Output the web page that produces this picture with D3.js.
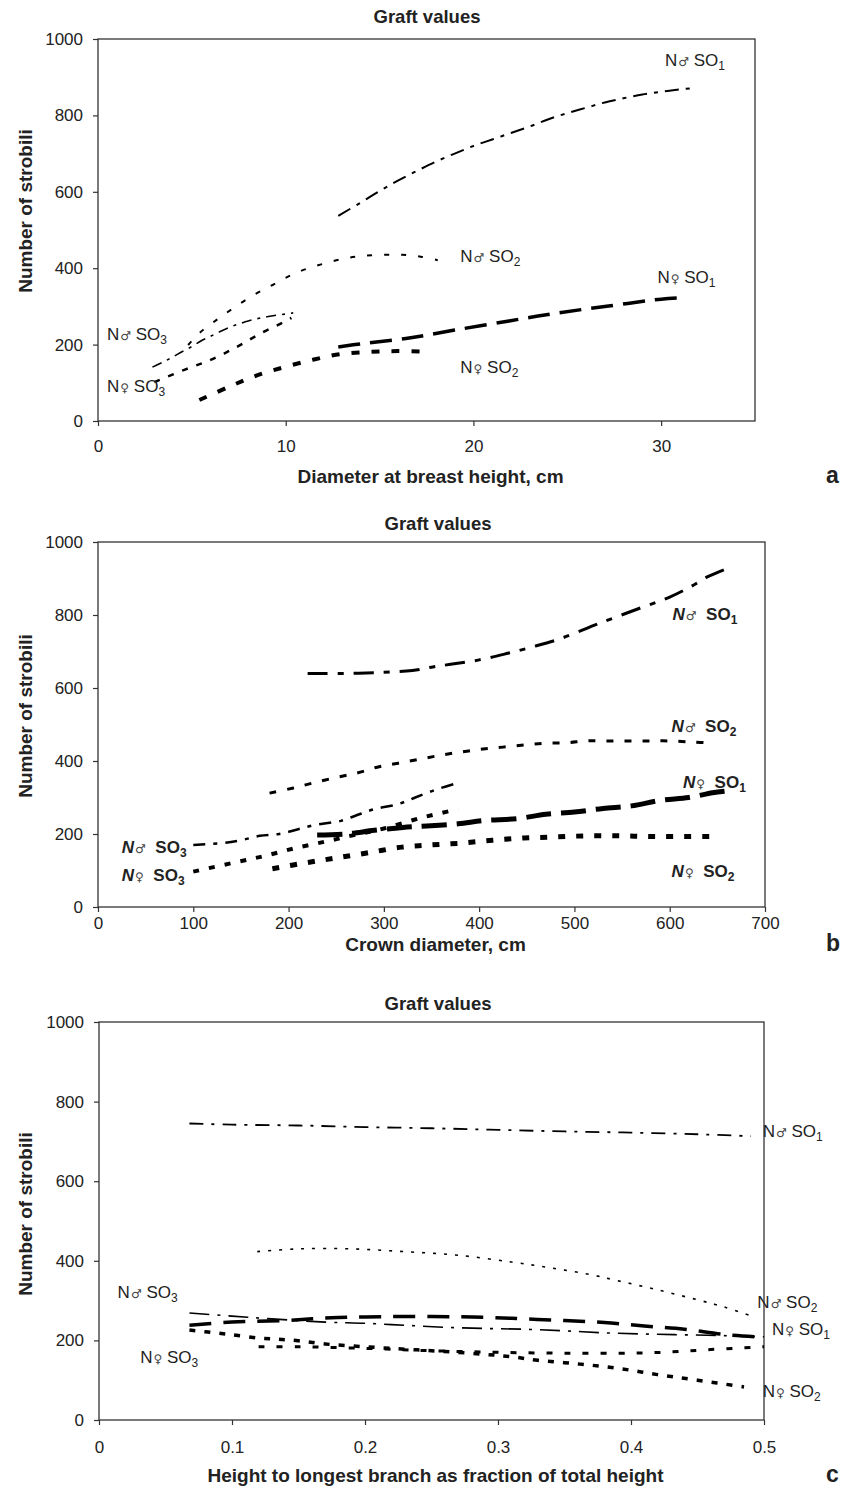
<!DOCTYPE html>
<html><head><meta charset="utf-8">
<script src="https://cdn.jsdelivr.net/npm/d3@7/dist/d3.min.js"></script>
<style>
body{margin:0;background:#fff;}
svg text{font-family:"Liberation Sans",Arial,Helvetica,sans-serif;fill:#222;}
</style></head>
<body><svg id="c" width="850" height="1491"></svg>
<script>
// ---------- DATA ----------
const yTicks = [0,200,400,600,800,1000];
const xTicksA = [0,10,20,30];
const xTicksB = [0,100,200,300,400,500,600,700];
const xTicksC = [0,0.1,0.2,0.3,0.4,0.5];
const xTickLabelsC = ["0","0.1","0.2","0.3","0.4","0.5"];

// Panel a: diameter at breast height (cm) vs number of strobili
const aMaleSO1 = [[12.8,537],[14,572],[15,602],[16,630],[17,655],[18,679],[19,700],[20,720],[21,737],[22,754],[23,771],[24,790],[25,806],[26,820],[27,834],[28,845],[29,855],[30,862],[31,868],[31.8,872]];
const aMaleSO2 = [[4.8,199],[5.4,230],[6.3,264],[7.2,295],[8.3,330],[9.3,356],[10.2,380],[11.2,400],[12.2,414],[13.2,426],[14.1,432],[15.2,435],[16.2,435],[17.2,430],[18.1,421]];
const aMaleSO3 = [[2.9,141],[3.5,155],[4,168],[4.5,182],[5,195],[5.5,210],[6,222],[6.5,234],[7,245],[7.5,254],[8,262],[8.5,268],[9,273],[9.5,277],[10,280],[10.4,283]];
const aFemSO1 = [[12.8,194],[14,202],[16.4,216],[19,238],[21.9,262],[24.5,283],[27.2,301],[30,319],[30.9,322]];
const aFemSO2 = [[5.4,55],[7,90],[8.5,120],[10,142],[11.5,161],[12.9,175],[14.5,181],[16,183],[17.6,181]];
const aFemSO3 = [[3,102],[4.6,134],[6,160],[7.4,194],[8.7,230],[10.1,264],[10.3,270]];

// Panel b: crown diameter (cm) vs number of strobili
const bMaleSO1 = [[220,640],[260,640],[300,643],[330,648],[350,657],[370,665],[400,677],[430,695],[455,712],[485,735],[525,776],[570,820],[600,849],[623,879],[640,905],[658,925]];
const bMaleSO2 = [[180,312],[205,326],[226,340],[250,355],[272,367],[293,383],[315,394],[338,405],[360,416],[382,425],[404,433],[425,438],[448,444],[470,449],[492,450],[513,455],[535,455],[558,455],[580,455],[600,455],[624,452],[645,449]];
const bMaleSO3 = [[100,170],[130,175],[150,183],[170,195],[190,200],[210,213],[230,226],[255,236],[272,252],[290,268],[315,282],[333,300],[355,322],[378,340]];
const bFemSO1 = [[230,197],[260,200],[290,210],[320,218],[345,222],[378,228],[405,237],[440,242],[470,254],[500,260],[530,270],[560,277],[590,292],[620,300],[645,313],[660,318]];
const bFemSO2 = [[183,105],[218,121],[249,134],[282,148],[319,164],[349,170],[381,175],[414,183],[447,189],[480,192],[514,195],[548,195],[580,193],[615,193],[650,193]];
const bFemSO3 = [[100,97],[140,120],[175,140],[208,162],[240,180],[270,198],[300,215],[340,245],[378,268]];

// Panel c: height to longest branch (fraction) vs number of strobili
const cMaleSO1 = [[0.068,745],[0.1,742],[0.15,740],[0.2,736],[0.25,733],[0.3,729],[0.35,725],[0.4,722],[0.45,718],[0.49,713]];
const cMaleSO2 = [[0.119,423],[0.15,430],[0.19,430],[0.23,423],[0.27,414],[0.31,397],[0.34,382],[0.37,365],[0.39,350],[0.42,327],[0.45,302],[0.47,284],[0.49,262]];
const cMaleSO3 = [[0.068,269],[0.1,261],[0.13,254],[0.17,246],[0.2,243],[0.23,238],[0.26,233],[0.29,230],[0.32,228],[0.35,224],[0.38,219],[0.41,216],[0.44,214],[0.47,212],[0.5,209]];
const cFemSO1 = [[0.068,238],[0.1,246],[0.14,250],[0.17,256],[0.2,259],[0.25,260],[0.29,258],[0.32,254],[0.35,250],[0.38,245],[0.41,236],[0.44,228],[0.47,215],[0.5,208]];
const cFemSO2 = [[0.068,226],[0.09,218],[0.1,214],[0.12,206],[0.135,203],[0.15,199],[0.17,191],[0.2,184],[0.23,178],[0.26,172],[0.29,165],[0.31,159],[0.33,150],[0.36,141],[0.39,130],[0.42,114],[0.45,100],[0.485,83]];
const cFemSO3 = [[0.12,184],[0.15,184],[0.2,180],[0.25,174],[0.3,170],[0.35,168],[0.4,168],[0.43,171],[0.46,177],[0.5,184]];

// ---------- DRAW ----------
const svg = d3.select("#c");
const MALE = "\u2642", FEM = "\u2640";

const panels = [
  { id:"a", xDom:[0,35], xR:[98,755], yR:[421,39], xTicks:xTicksA, xFmt:d=>String(d), tickPad:14,
    xTitle:"Diameter at breast height, cm", xTitleY:483, titleX:427, titleY:23, letterY:483, yTitleY:211, bold:false,
    series:[
      {d:aMaleSO1, w:2, dash:"14,7,4,7"},
      {d:aMaleSO2, w:2, dash:"5,12"},
      {d:aMaleSO3, w:1.6, dash:"10,6,3,6"},
      {d:aFemSO1, w:3.5, dash:"22,10"},
      {d:aFemSO2, w:4, dash:"8,12"},
      {d:aFemSO3, w:2.5, dash:"6,9"}],
    labels:[
      {sex:MALE, n:"1", at:[30.2,929]},
      {sex:MALE, n:"2", at:[19.3,416]},
      {sex:FEM, n:"1", at:[29.8,361]},
      {sex:FEM, n:"2", at:[19.3,126]},
      {sex:MALE, n:"3", at:[0.48,212]},
      {sex:FEM, n:"3", at:[0.48,76]}]},
  { id:"b", xDom:[0,700], xR:[98,765], yR:[907,542], xTicks:xTicksB, xFmt:d=>String(d), tickPad:5,
    xTitle:"Crown diameter, cm", xTitleY:951, titleX:438, titleY:530, letterY:951, yTitleY:716, bold:true,
    series:[
      {d:bMaleSO1, w:3, dash:"20,10,6,10"},
      {d:bMaleSO2, w:3, dash:"7,11"},
      {d:bMaleSO3, w:2.5, dash:"12,8,4,8"},
      {d:bFemSO1, w:5, dash:"25,10"},
      {d:bFemSO2, w:5, dash:"7,11"},
      {d:bFemSO3, w:4, dash:"6,10"}],
    labels:[
      {sex:MALE, n:"1", at:[603,786]},
      {sex:MALE, n:"2", at:[602,479]},
      {sex:FEM, n:"1", at:[614,326]},
      {sex:FEM, n:"2", at:[602,82]},
      {sex:MALE, n:"3", at:[25,148]},
      {sex:FEM, n:"3", at:[25,70]}]},
  { id:"c", xDom:[0,0.5], xR:[99,764], yR:[1420,1022], xTicks:xTicksC, xFmt:(d,i)=>xTickLabelsC[i], tickPad:16,
    xTitle:"Height to longest branch as fraction of total height", xTitleY:1482, titleX:438, titleY:1010, letterY:1482, yTitleY:1214, bold:false,
    series:[
      {d:cMaleSO1, w:1.8, dash:"14,8,3,8"},
      {d:cMaleSO2, w:1.6, dash:"3,8"},
      {d:cMaleSO3, w:1.6, dash:"20,8,3,8"},
      {d:cFemSO1, w:3.5, dash:"22,12"},
      {d:cFemSO2, w:3.5, dash:"6,9"},
      {d:cFemSO3, w:3, dash:"6,12"}],
    labels:[
      {sex:MALE, n:"1", at:[0.499,712]},
      {sex:MALE, n:"2", at:[0.495,282]},
      {sex:FEM, n:"1", at:[0.506,214]},
      {sex:FEM, n:"2", at:[0.499,58]},
      {sex:MALE, n:"3", at:[0.014,307]},
      {sex:FEM, n:"3", at:[0.031,143]}]}
];

panels.forEach(p => {
  const x = d3.scaleLinear().domain(p.xDom).range(p.xR);
  const y = d3.scaleLinear().domain([0,1000]).range(p.yR);
  const g = svg.append("g");

  // title
  g.append("text").attr("x",p.titleX).attr("y",p.titleY).attr("text-anchor","middle")
    .attr("font-size",18.5).attr("font-weight","bold").text("Graft values");

  // y axis
  const ya = g.append("g").attr("transform",`translate(${p.xR[0]},0)`)
    .call(d3.axisLeft(y).tickValues(yTicks).tickFormat(d3.format("d")).tickSize(5).tickPadding(10));
  ya.select(".domain").remove();
  ya.selectAll("text").attr("font-size",17).attr("fill","#222");
  ya.selectAll("line").attr("stroke","#333").attr("stroke-width",1.2);

  // x axis
  const xa = g.append("g").attr("transform",`translate(0,${p.yR[0]})`)
    .call(d3.axisBottom(x).tickValues(p.xTicks).tickFormat(p.xFmt).tickSize(5).tickPadding(p.tickPad));
  xa.select(".domain").remove();
  xa.selectAll("text").attr("font-size",17).attr("fill","#222");
  xa.selectAll("line").attr("stroke","#333").attr("stroke-width",1.2);

  // box
  g.append("rect").attr("x",p.xR[0]).attr("y",p.yR[1])
    .attr("width",p.xR[1]-p.xR[0]).attr("height",p.yR[0]-p.yR[1])
    .attr("fill","none").attr("stroke","#333").attr("stroke-width",1.3);

  // axis titles
  g.append("text").attr("x",(p.xR[0]+p.xR[1])/2 + 4).attr("y",p.xTitleY).attr("text-anchor","middle")
    .attr("font-size",19).attr("font-weight","bold").text(p.xTitle);
  g.append("text").attr("transform",`translate(32,${p.yTitleY}) rotate(-90)`)
    .attr("text-anchor","middle").attr("font-size",19).attr("font-weight","bold").text("Number of strobili");
  g.append("text").attr("x",826).attr("y",p.letterY).attr("font-size",23).attr("font-weight","bold").text(p.id);

  // series
  const line = d3.line().x(d=>x(d[0])).y(d=>y(d[1])).curve(d3.curveCatmullRom.alpha(0.5));
  p.series.forEach(s => {
    g.append("path").attr("d",line(s.d)).attr("fill","none").attr("stroke","#000")
      .attr("stroke-width",s.w).attr("stroke-dasharray",s.dash);
  });

  // labels
  p.labels.forEach(l => {
    const t = g.append("text").attr("x",x(l.at[0])).attr("y",y(l.at[1]))
      .attr("font-size",17).attr("font-weight",p.bold?"bold":"normal");
    t.append("tspan").text("N").attr("font-style",p.bold?"italic":"normal");
    t.append("tspan").text(l.sex).attr("font-size",12).attr("font-weight","normal")
      .attr("font-family","DejaVu Sans").attr("fill","#444").attr("dx",1);
    t.append("tspan").text(p.bold ? "\u00a0\u00a0SO" : "\u00a0SO");
    t.append("tspan").text(l.n).attr("font-size",12).attr("dy",4);
  });
});
</script></body></html>
